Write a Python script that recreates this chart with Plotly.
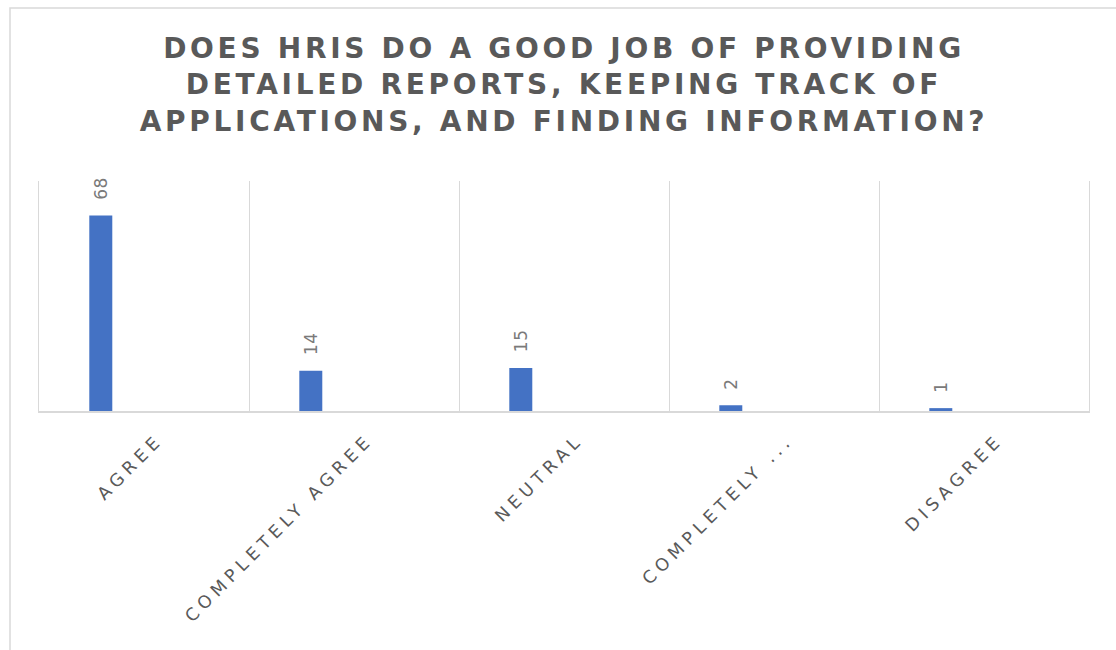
import plotly.graph_objects as go

categories = ["AGREE", "COMPLETELY AGREE", "NEUTRAL", "COMPLETELY DISAGREE", "DISAGREE"]
tick_labels = ["AGREE", "COMPLETELY AGREE", "NEUTRAL", "COMPLETELY ...", "DISAGREE"]
values = [68, 14, 15, 2, 1]
title_text = ("DOES HRIS DO A GOOD JOB OF PROVIDING<br>"
              "DETAILED REPORTS, KEEPING TRACK OF<br>"
              "APPLICATIONS, AND FINDING INFORMATION?")

W, H = 1116, 650
ML, MR, MT, MB = 39, 27, 181, 239
PW, PH = W - ML - MR, H - MT - MB

FONT = "DejaVu Sans, Verdana, sans-serif"
GRID = "#d9d9d9"
BAR_OFFSET = -0.2605
BAR_WIDTH = 0.1095

fig = go.Figure()
fig.add_trace(go.Bar(
    x=categories, y=values,
    offset=BAR_OFFSET, width=BAR_WIDTH,
    marker=dict(color="#4472C4", line=dict(width=0)),
    hoverinfo="x+y",
))

for i, v in enumerate(values):
    fig.add_annotation(
        x=i + BAR_OFFSET + BAR_WIDTH / 2, y=v, xref="x", yref="y",
        text=str(v), showarrow=False, textangle=-90,
        xanchor="center", yanchor="bottom", yshift=14,
        font=dict(family=FONT, size=17, color="#7a7a7a"),
    )

# outer chart frame (pixel positions converted to paper coords)
def px_x(p):
    return (p - ML) / PW

def px_y(p):
    return (H - MB - p) / PH

fig.add_shape(type="rect", xref="paper", yref="paper",
              x0=px_x(10), x1=px_x(1118), y0=px_y(660), y1=px_y(8),
              line=dict(color=GRID, width=1.5), fillcolor="rgba(0,0,0,0)", layer="below")

fig.update_layout(
    width=W, height=H,
    margin=dict(l=ML, r=MR, t=MT, b=MB, pad=0),
    paper_bgcolor="white", plot_bgcolor="white",
    showlegend=False,
    title=dict(text=title_text, x=0.5, xref="paper", xanchor="center",
               y=1 - 58 / H, yref="container", yanchor="top",
               font=dict(family=FONT, size=28, color="#595959", weight="bold")),
    xaxis=dict(type="category", categoryorder="array", categoryarray=categories,
               tickmode="array", tickvals=categories, ticktext=tick_labels,
               tickangle=-45, tickson="boundaries", ticks="",
               ticklabelstandoff=10, ticklabelshift=14,
               showgrid=True, gridcolor=GRID, gridwidth=1.3,
               showline=True, linecolor=GRID, linewidth=1.5,
               tickfont=dict(family=FONT, size=17.5, color="#595959"),
               range=[-0.5, 4.5], fixedrange=True),
    yaxis=dict(range=[0, 80], showgrid=False, showticklabels=False, ticks="",
               zeroline=False, showline=True, mirror=True, linecolor=GRID, linewidth=1.3,
               fixedrange=True),
)

post = """
document.body.style.margin = '0';
var gd = document.getElementById('{plot_id}');
function sp(){
  gd.querySelectorAll('.gtitle').forEach(function(t){t.style.letterSpacing='3.7px';});
  gd.querySelectorAll('.xtick text').forEach(function(t){t.style.letterSpacing='5px';});
  gd.querySelectorAll('.annotation-text').forEach(function(t){t.style.letterSpacing='0.5px';});
}
try { sp(); gd.on('plotly_afterplot', sp); } catch(e) {}
"""

fig.write_html("out.html", post_script=post, config={"displayModeBar": False})
